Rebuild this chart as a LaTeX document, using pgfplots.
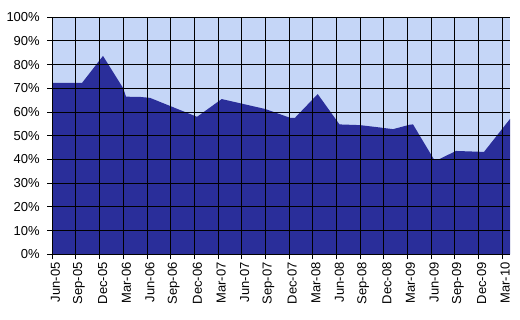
\documentclass[border=0pt]{standalone}
\usepackage{pgfplots}
\pgfplotsset{compat=1.18}
\usepackage{fontspec}
\setmainfont{Liberation Sans}
\definecolor{darkarea}{RGB}{42,46,154}
\definecolor{lightarea}{RGB}{197,214,247}
\begin{document}
\begin{tikzpicture}
\useasboundingbox (0pt,0pt) rectangle (520pt,320pt);
\begin{axis}[
  at={(52.3pt,65.7pt)}, anchor=south west,
  scale only axis, width=457.7pt, height=237pt,
  xmin=0, xmax=19.328, ymin=0, ymax=100,
  axis background/.style={fill=lightarea},
  axis on top,
  axis x line*=bottom, axis y line*=left,
  axis line style={black, line width=1pt},
  grid=major, major grid style={black, line width=1pt},
  tick align=outside, major tick length=5pt,
  tick style={black, line width=1pt},
  xtick={0,...,19},
  xticklabels={Jun-05,Sep-05,Dec-05,Mar-06,Jun-06,Sep-06,Dec-06,Mar-07,Jun-07,Sep-07,Dec-07,Mar-08,Jun-08,Sep-08,Dec-08,Mar-09,Jun-09,Sep-09,Dec-09,Mar-10},
  ytick={0,10,...,100},
  yticklabels={0\%,10\%,20\%,30\%,40\%,50\%,60\%,70\%,80\%,90\%,100\%},
  ticklabel style={font=\fontsize{13}{15}\selectfont},
  xticklabel style={rotate=90, anchor=east, xshift=0.5pt, yshift=-3pt},
  yticklabel style={xshift=-4pt},
]
\addplot[fill=darkarea, draw=none] coordinates {
(0,72.3) (1.254,72.3) (2.141,83.7) (2.998,70.0) (3.112,66.5) (3.704,66.4)
(4.126,66.0) (6.111,58.0) (7.154,65.5) (8.995,61.3) (10.038,57.6) (10.249,57.6)
(11.208,67.6) (12.128,54.8) (12.994,54.5) (13.838,53.5) (14.387,52.8) (15.105,54.7)
(15.232,54.8) (16.132,39.8) (16.288,39.9) (17.048,43.6) (17.639,43.4) (18.230,43.2)
(19.328,57.1)
} \closedcycle;
\end{axis}
\end{tikzpicture}
\end{document}
